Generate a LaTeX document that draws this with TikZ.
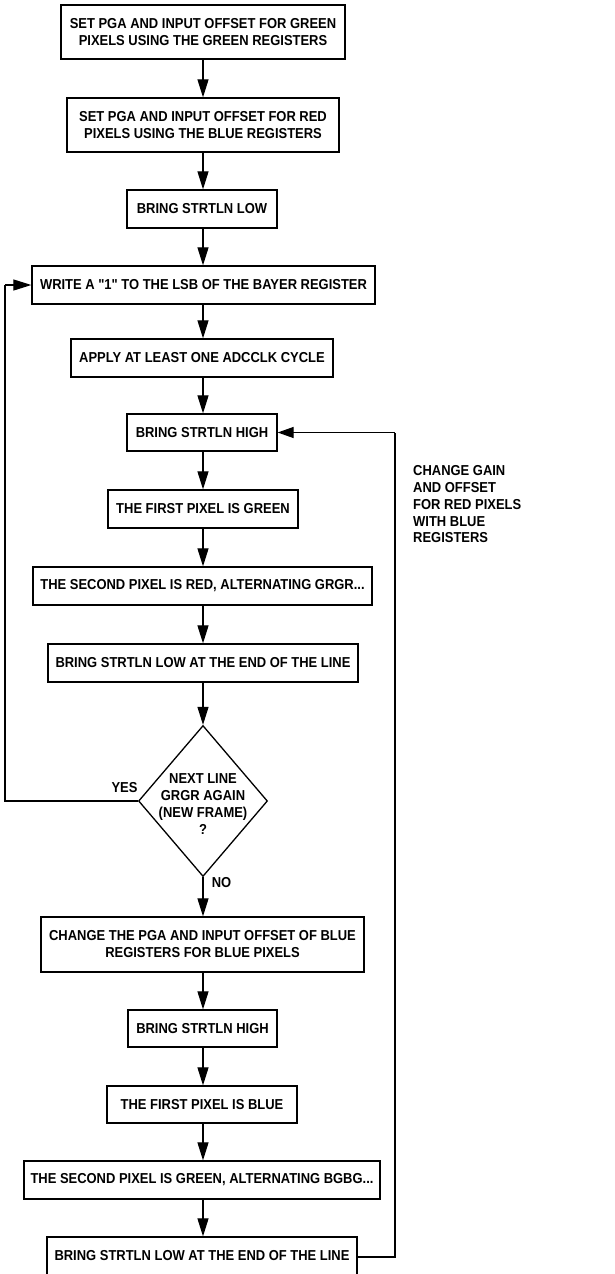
\documentclass[tikz,border=0pt]{standalone}
\usepackage{fontspec}
\setmainfont{Liberation Sans}[FakeStretch=0.9,Ligatures=TeXOff]
\usetikzlibrary{arrows.meta,shapes.geometric}
\begin{document}
\begin{tikzpicture}[x=1pt,y=-1pt,
  every node/.style={font=\bfseries\fontsize{14.4pt}{17pt}\selectfont},
  stepbox/.style={draw,line width=1.3pt,align=center,inner sep=0pt},
  flow/.style={line width=1.2pt,-{Triangle[length=18pt,width=11pt]}},
  plain/.style={line width=1.2pt},
  lbl/.style={inner sep=0pt}]
\useasboundingbox (0,0) rectangle (615,1274);
\begin{scope}
\clip (0,0) rectangle (615,1274);
\node[stepbox,minimum width=284pt,minimum height=54pt] (b1) at (203,32) {SET PGA AND INPUT OFFSET FOR GREEN\\PIXELS USING THE GREEN REGISTERS};
\node[stepbox,minimum width=272pt,minimum height=54pt] (b2) at (203,125) {SET PGA AND INPUT OFFSET FOR RED\\PIXELS USING THE BLUE REGISTERS};
\node[stepbox,minimum width=150pt,minimum height=38pt] (b3) at (202,209) {BRING STRTLN LOW};
\node[stepbox,minimum width=343pt,minimum height=38pt] (b4) at (203.5,285) {WRITE A "1" TO THE LSB OF THE BAYER REGISTER};
\node[stepbox,minimum width=262pt,minimum height=38pt] (b5) at (202,358) {APPLY AT LEAST ONE ADCCLK CYCLE};
\node[stepbox,minimum width=150pt,minimum height=37pt] (b6) at (202,432.5) {BRING STRTLN HIGH};
\node[stepbox,minimum width=190pt,minimum height=38pt] (b7) at (203,509) {THE FIRST PIXEL IS GREEN};
\node[stepbox,minimum width=339pt,minimum height=38pt] (b8) at (202.5,586) {THE SECOND PIXEL IS RED, ALTERNATING GRGR...};
\node[stepbox,minimum width=310pt,minimum height=38pt] (b9) at (203,663) {BRING STRTLN LOW AT THE END OF THE LINE};
\node[diamond,draw,line width=1.3pt,minimum width=129pt,minimum height=151pt,inner sep=0pt] (d) at (203,801) {};
\node[lbl,align=center] (dt) at (203,804) {NEXT LINE\\GRGR AGAIN\\(NEW FRAME)\\?};
\node[stepbox,minimum width=323pt,minimum height=55pt] (b10) at (202.5,944.5) {CHANGE THE PGA AND INPUT OFFSET OF BLUE\\REGISTERS FOR BLUE PIXELS};
\node[stepbox,minimum width=149pt,minimum height=37pt] (b11) at (202.5,1028.5) {BRING STRTLN HIGH};
\node[stepbox,minimum width=190pt,minimum height=37pt] (b12) at (202,1104.5) {THE FIRST PIXEL IS BLUE};
\node[stepbox,minimum width=356pt,minimum height=38pt] (b13) at (202,1180) {THE SECOND PIXEL IS GREEN, ALTERNATING BGBG...};
\node[stepbox,minimum width=310pt,minimum height=38pt] (b14) at (202,1256) {BRING STRTLN LOW AT THE END OF THE LINE};

\node[lbl] (yes) at (124.5,788) {YES};
\node[lbl] (no) at (221.5,883) {NO};
\node[lbl,align=left,anchor=west,font=\bfseries\fontsize{14.4pt}{16.75pt}\selectfont] (side) at (413,504.5) {CHANGE GAIN\\AND OFFSET\\FOR RED PIXELS\\WITH BLUE\\REGISTERS};

\coordinate (lx) at (5,801);
\coordinate (ly) at (5,285);
\coordinate (rx) at (395,1257);
\coordinate (ry) at (395,432.5);

\draw[flow] (b1.south -| 203,0) -- (b2.north -| 203,0);
\draw[flow] (b2.south -| 203,0) -- (b3.north -| 203,0);
\draw[flow] (b3.south -| 203,0) -- (b4.north -| 203,0);
\draw[flow] (b4.south -| 203,0) -- (b5.north -| 203,0);
\draw[flow] (b5.south -| 203,0) -- (b6.north -| 203,0);
\draw[flow] (b6.south -| 203,0) -- (b7.north -| 203,0);
\draw[flow] (b7.south -| 203,0) -- (b8.north -| 203,0);
\draw[flow] (b8.south -| 203,0) -- (b9.north -| 203,0);
\draw[flow] (b9.south -| 203,0) -- (d.north);
\draw[flow] (d.south) -- (b10.north -| 203,0);
\draw[flow] (b10.south -| 203,0) -- (b11.north -| 203,0);
\draw[flow] (b11.south -| 203,0) -- (b12.north -| 203,0);
\draw[flow] (b12.south -| 203,0) -- (b13.north -| 203,0);
\draw[flow] (b13.south -| 203,0) -- (b14.north -| 203,0);

\draw[plain] (d.west) -- (lx) -- (ly);
\draw[flow] (ly) -- (b4.west);
\draw[plain] (b14.east |- rx) -- (rx) -- (ry);
\draw[flow,-{Triangle[length=16pt,width=11pt]}] (ry) -- (b6.east);
\end{scope}
\end{tikzpicture}
\end{document}
